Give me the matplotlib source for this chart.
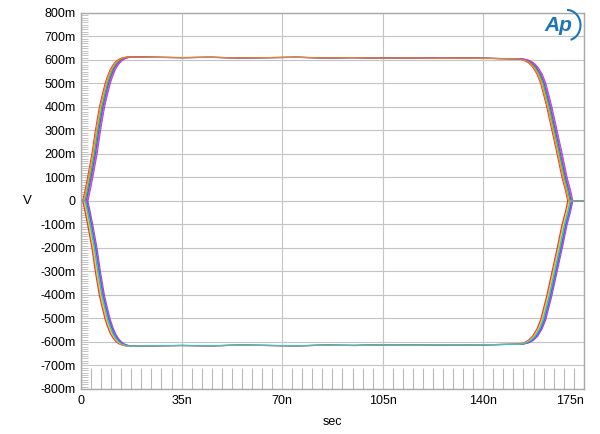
import matplotlib
matplotlib.use("Agg")
import matplotlib.pyplot as plt
from matplotlib.patches import Arc
from matplotlib.ticker import MultipleLocator

plt.rcParams['font.family'] = ['Liberation Sans', 'DejaVu Sans']

# edge shape: time (ns), level (mV) of the positive pulse
rise_t = [0, 1.4, 2.2, 3.1, 4.6, 5.8, 7.2, 8.2, 9.2, 10.0, 11.0, 12.0, 13.0, 14.0,
          15.0, 16.0, 17.0, 18.0, 20.0]
rise_v = [0, 0, 45, 100, 200, 300, 400, 452, 500, 530, 560, 580, 594, 603,
          608, 611, 613, 613, 612]
flat_t = [25, 35, 45, 55, 65, 75, 85, 95, 105, 115, 125, 135, 145, 152]
flat_v = [611, 610, 611, 609, 610, 611, 609, 610, 608, 609, 607, 608, 606, 605]
fall_t = [153.5, 155.0, 156.5, 158.0, 159.5, 160.8, 162.9, 164.7, 166.5, 168.2,
          169.4, 170.2, 175.0]
fall_v = [603, 598, 588, 570, 540, 500, 400, 300, 200, 100, 45, 0, 0]
neg_scale = -1.008   # bottom plateau sits at about -615m

# the eight overlaid captures and their small time offsets (ns)
trace_colors = ['#e8202a', '#f08a1c', '#e6d21e', '#1fb34a', '#22c8d8',
                '#2a3fe0', '#e03ad8', '#8a3ce0']
trace_shift = [-0.8, -0.5, -0.3, 0.0, 0.2, 0.45, 0.7, 1.0]
trace_order = [3, 7, 1, 5, 0, 4, 6, 2]

x_ticks = [0, 35, 70, 105, 140, 175]
x_labels = ['0', '35n', '70n', '105n', '140n', '175n']
y_ticks = list(range(-800, 801, 100))
y_labels = ['-%dm' % -v if v < 0 else ('%dm' % v if v > 0 else '0') for v in y_ticks]

t_shape = rise_t + flat_t + fall_t
v_shape = rise_v + flat_v + fall_v

fig = plt.figure(figsize=(6, 4.34), dpi=100)
ax = fig.add_axes([0.135, 0.1037, 0.838, 0.8665])

for col, dt, z in zip(trace_colors, trace_shift, trace_order):
    tt = [min(max(t + dt, 0), 175) if 0 < t < 175 else t for t in t_shape]
    ax.plot(tt, v_shape, color=col, lw=0.8, alpha=0.9, zorder=3 + z)
    ax.plot(tt, [v * neg_scale for v in v_shape], color=col, lw=0.8, alpha=0.9,
            zorder=3 + (7 - z))

ax.set_xlim(0, 175)
ax.set_ylim(-800, 800)
ax.set_xticks(x_ticks)
ax.set_xticklabels(x_labels, fontsize=9)
ax.set_yticks(y_ticks)
ax.set_yticklabels(y_labels, fontsize=9)
ax.get_xticklabels()[-1].set_horizontalalignment('right')
ax.tick_params(length=0, pad=4)
ax.grid(True, color='#c4c4c4', lw=0.8)
ax.set_axisbelow(True)
for s in ax.spines.values():
    s.set_color('#a8a8a8')
    s.set_linewidth(1.0)

# little inside ticks on the left, long ones along the bottom
ax.yaxis.set_minor_locator(MultipleLocator(10))
ax.tick_params(axis='y', which='minor', direction='in', length=5, color='#b8b8b8', width=0.6)
ax.xaxis.set_minor_locator(MultipleLocator(3.5))
ax.tick_params(axis='x', which='minor', direction='in', length=15, color='#b8b8b8', width=0.8)

ax.set_xlabel('sec', fontsize=9)
ax.xaxis.set_label_coords(0.5, -0.072)
ax.set_ylabel('V', fontsize=9.5, rotation=0, va='center', ha='center')
ax.yaxis.set_label_coords(-0.107, 0.5)

# Ap logo
fig.text(0.931, 0.942, 'Ap', color='#1f74b8', fontsize=15, style='italic',
         fontweight='bold', ha='center', va='center')
fig.patches.append(Arc((0.945, 0.942), 0.045, 0.07, angle=0, theta1=-80, theta2=90,
                       transform=fig.transFigure, color='#1f74b8', lw=1.5))

fig.savefig('out.png', dpi=100)
